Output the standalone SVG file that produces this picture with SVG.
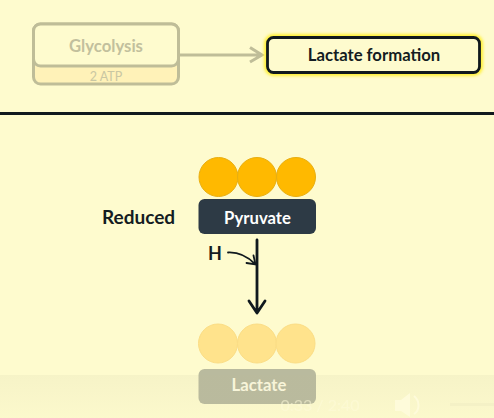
<svg xmlns="http://www.w3.org/2000/svg" width="494" height="418" viewBox="0 0 494 418">
<style>
text{font-family:Lato,"Noto Sans",sans-serif;text-anchor:middle}
.faint{fill:none;stroke:#BFBD98;stroke-width:3}
.dark{fill:none;stroke:#10191E;stroke-width:2.800;stroke-linecap:round;stroke-linejoin:round}
.o{fill:#FFB900;stroke:#E8AE10;stroke-width:1}
.l{fill:#FFE38C;stroke:#FBDD85;stroke-width:1}
</style>
<defs>
<linearGradient id="bar" x1="0" y1="0" x2="0" y2="1"><stop offset="0" stop-color="#BDBB96" stop-opacity=".12"/><stop offset="1" stop-color="#BDBB96" stop-opacity=".04"/></linearGradient>
<filter id="glow" x="-10%" y="-30%" width="120%" height="160%"><feGaussianBlur stdDeviation="1.500"/></filter>
</defs>
<rect width="494" height="418" fill="#FEFBCE"/>
<g id="glycolysis">
<rect x="33.500" y="24" width="145" height="60" rx="7" fill="#FFF2B8" stroke="#BFBD98" stroke-width="3"/>
<rect x="33.500" y="24" width="145" height="42" rx="7" fill="#FEFBCE" stroke="#BFBD98" stroke-width="3"/>
<text x="106" y="51.500" font-size="16.700" font-weight="700" fill="#C2C09D">Glycolysis</text>
<text x="106" y="81" font-size="12.500" fill="#C9C7A3">2 ATP</text>
</g>
<g id="connectors">
<path class="faint" d="M179 55H261M250 47.500L262 55L250 62"/>
<path class="dark" d="M257 240V313M249 301L257 313L265 301"/>
<path d="M228 252.500C238 252 248 257 255 264M253.500 255.500L255.500 264.500L246.500 263" fill="none" stroke="#10191E" stroke-width="1.800" stroke-linecap="round"/>
</g>
<g id="lactate-formation">
<rect x="267.500" y="37.500" width="212" height="35" rx="6" fill="none" stroke="#FFF030" stroke-width="7" filter="url(#glow)"/>
<rect x="267.500" y="37.500" width="212" height="35" rx="6" fill="#FEFBCE" stroke="#10191E" stroke-width="2.800"/>
<text x="374" y="61" font-size="16.700" font-weight="700" fill="#141C22">Lactate formation</text>
</g>
<rect id="divider" x="0" y="112" width="494" height="3" fill="#10191E"/>
<g id="reduced-label"><text x="138.500" y="223.500" font-size="19" font-weight="700" fill="#141C22">Reduced</text></g>
<g id="pyruvate">
<circle class="o" cx="218.500" cy="177" r="19.500"/>
<circle class="o" cx="257" cy="177" r="19.500"/>
<circle class="o" cx="296" cy="177" r="19.500"/>
<rect x="198.500" y="199" width="117.500" height="35" rx="6" fill="#2D3A45"/>
<text x="257.500" y="224" font-size="16.700" font-weight="700" fill="#FFFFFF">Pyruvate</text>
</g>
<g id="hydrogen"><text x="215" y="260" font-size="18" font-weight="700" fill="#141C22">H</text></g>
<g id="lactate">
<circle class="l" cx="218" cy="343.500" r="19.500"/>
<circle class="l" cx="257" cy="343.500" r="19.500"/>
<circle class="l" cx="295.500" cy="343.500" r="19.500"/>
<rect x="198.500" y="369" width="117.500" height="35" rx="6" fill="#B9BA9E"/>
<text x="259" y="391" font-size="16.700" font-weight="700" fill="#FEFBE0">Lactate</text>
</g>
<g id="player">
<rect x="0" y="375" width="494" height="43" fill="url(#bar)"/>
<text x="320" y="411" font-size="16" fill="#FEFBDA" opacity=".55">0:33 / 2:40</text>
<path d="M395 400H401L410 393V417L401 411H395Z" fill="#FEFBDA"/>
<path d="M414 396C420 401 420 410 414 414" fill="none" stroke="#FEFBDA" stroke-width="2"/>
<rect x="450" y="403" width="44" height="3" fill="#F4F1C6"/>
</g>
</svg>
